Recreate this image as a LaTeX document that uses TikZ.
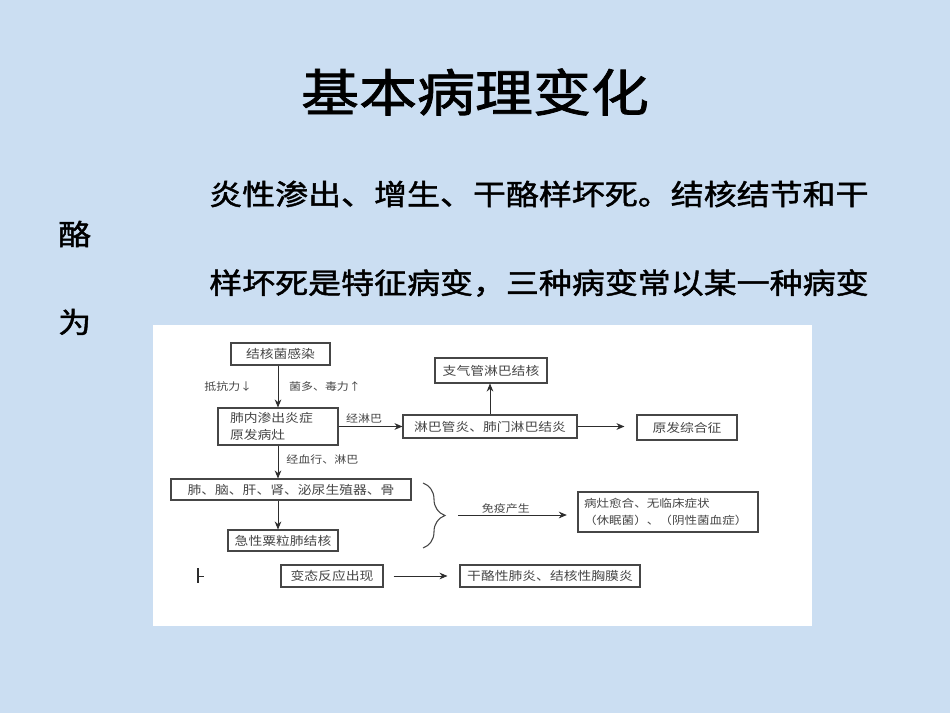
\documentclass[tikz,border=0pt]{standalone}
\usepackage{fontspec}
\newfontfamily\cjk{Noto Sans CJK SC}[FakeStretch=1.15]
\newfontfamily\cjkhei{Noto Sans CJK SC}[FakeStretch=1.15, FakeBold=1.6]
\usetikzlibrary{arrows.meta,decorations.pathreplacing}
\definecolor{slide}{RGB}{203,222,242}
\definecolor{ink}{RGB}{70,70,70}
\definecolor{wire}{RGB}{45,45,45}

\begin{document}
\begin{tikzpicture}[x=0.75pt, y=-0.75pt, >={Stealth[length=6pt,width=5pt]},
    font=\cjk,
    bx/.style={rectangle, draw=ink, line width=0.8pt, inner sep=0pt, text=ink,
               font=\cjk\fontsize{9pt}{13pt}\selectfont},
    lab/.style={text=ink, inner sep=1pt, font=\cjk\fontsize{7.8pt}{9pt}\selectfont},
    conn/.style={->, draw=wire, line width=0.7pt},
    body/.style={anchor=west, inner sep=0pt, font=\cjkhei\fontsize{21.5pt}{24pt}\selectfont}]
  \useasboundingbox (0,0) rectangle (950,713);
  \fill[slide] (0,0) rectangle (950,713);
  \fill[white] (153,325) rectangle (812,626);

  % title and text
  \node[font=\cjkhei\fontsize{37.8pt}{40pt}\selectfont] (title) at (475,92) {基本病理变化};
  \node[body] (line1) at (209,194) {炎性渗出、增生、干酪样坏死。结核结节和干};
  \node[body] (wrap1) at (58,234)  {酪};
  \node[body] (line2) at (209,283) {样坏死是特征病变，三种病变常以某一种病变};
  \node[body] (wrap2) at (58,322)  {为};

  % main column
  \node[bx, minimum width=74.25pt, minimum height=16.5pt] (infect) at (280.5,354) {结核菌感染};
  \node[bx, text width=72pt, inner xsep=9pt, minimum height=27.75pt, align=left] (lung) at (278,426.5)
        {肺内渗出炎症\\原发病灶};
  \node[bx, minimum width=180pt, minimum height=15.75pt] (organ) at (291,489.5) {肺、脑、肝、肾、泌尿生殖器、骨};
  \node[bx, minimum width=82.5pt, minimum height=15.75pt] (miliary) at (283,540.5) {急性粟粒肺结核};
  % lymph branch
  \node[bx, minimum width=130.5pt, minimum height=17.25pt] (lymph) at (490,426.5) {淋巴管炎、肺门淋巴结炎};
  \node[bx, minimum width=84pt, minimum height=18.75pt] (bronch) at (491,370.5) {支气管淋巴结核};
  \node[bx, minimum width=75pt, minimum height=18.75pt] (prim) at (687,427.5) {原发综合征};
  % immunity
  \node[bx, text width=126pt, inner xsep=4.5pt, minimum height=30pt, align=left,
        font=\cjk\fontsize{8.2pt}{12.5pt}\selectfont] (heal) at (668,512)
        {病灶愈合、无临床症状\\（休眠菌）、（阴性菌血症）};
  % allergy row
  \node[bx, minimum width=76.5pt, minimum height=16.5pt] (allergy) at (332,576) {变态反应出现};
  \node[bx, minimum width=135pt, minimum height=16.5pt] (caseous) at (550,576) {干酪性肺炎、结核性胸膜炎};
  \coordinate (mark) at (198,576);
  \draw[wire, line width=1.2pt] ([yshift=6pt]mark) -- ([yshift=-5pt]mark);
  \draw[wire, line width=0.7pt] (mark) -- ([xshift=4.5pt]mark);

  \draw[conn] (infect.south -| lung.north) --
        node[lab, left=18pt] {抵抗力↓} node[lab, right=7pt] {菌多、毒力↑} (lung.north);
  \draw[conn] (lung) -- node[lab, above=1pt, pos=0.4] {经淋巴} (lymph);
  \draw[conn] (lymph.north) -- (lymph.north |- bronch.south);
  \draw[conn, shorten >=9pt] (lymph.east) -- (lymph.east -| prim.west);
  \draw[conn] (lung.south) -- node[lab, right=5pt, pos=0.42] {经血行、淋巴} (lung.south |- organ.north);
  \draw[conn] (lung.south |- organ.south) -- (lung.south |- miliary.north);

  \coordinate (btop) at (423,483);
  \coordinate (bbot) at (423,548);
  \draw[ink, line width=0.8pt, decorate, decoration={brace, amplitude=16.5pt}] (btop) -- (bbot);
  \coordinate (imm) at (458,515);
  \draw[conn, shorten >=8pt] (imm) -- node[lab, above=0pt, pos=0.4] {免疫产生} (imm -| heal.west);

  \draw[conn, shorten <=7.5pt, shorten >=9pt] (allergy) -- (caseous);
\end{tikzpicture}
\end{document}
